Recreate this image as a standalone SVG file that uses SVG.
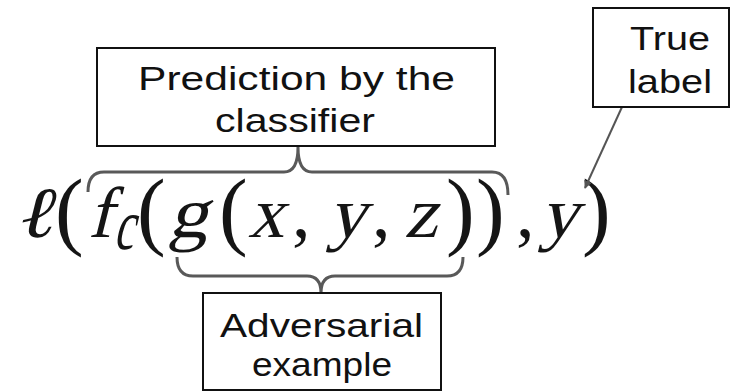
<svg xmlns="http://www.w3.org/2000/svg" width="740" height="392" viewBox="0 0 740 392">
<style>
.box{fill:#fff;stroke:#111;stroke-width:2}
.lbl{font-family:"Liberation Sans","Open Sans",sans-serif;font-size:33px;fill:#111}
.m{font-family:"Liberation Serif","DejaVu Serif",serif;font-size:72px;fill:#151515}
.p{font-family:"Liberation Serif","DejaVu Serif",serif;font-size:86px;fill:#151515}
.k{font-family:"Liberation Serif","DejaVu Serif",serif;font-size:74px;fill:#151515}
.brace{fill:none;stroke:#595959;stroke-width:3;stroke-linejoin:round}
</style>
<defs>
<marker id="ah" viewBox="0 0 10 10" refX="9" refY="5" markerWidth="8" markerHeight="8" orient="auto-start-reverse" markerUnits="userSpaceOnUse">
<path d="M0,0 L10,5 L0,10 z" fill="#555"/>
</marker>
</defs>
<g id="formula">
<text class="m" transform="translate(14 237) skewX(-14)" textLength="40" lengthAdjust="spacingAndGlyphs">ℓ</text>
<text class="p" x="55" y="239">(</text>
<text class="m" transform="translate(88 237) skewX(-14)" textLength="24" lengthAdjust="spacingAndGlyphs">f</text>
<text class="m" transform="translate(113 249) skewX(-14)" font-size="50" textLength="20" lengthAdjust="spacingAndGlyphs">c</text>
<text class="p" x="137" y="239">(</text>
<text class="m" transform="translate(168 237) skewX(-14)" textLength="40" lengthAdjust="spacingAndGlyphs">g</text>
<text class="p" x="219" y="239">(</text>
<text class="m" transform="translate(248 237) skewX(-14)" textLength="36" lengthAdjust="spacingAndGlyphs">x</text>
<text class="k" x="292" y="237">,</text>
<text class="m" transform="translate(328 237) skewX(-14)" textLength="38" lengthAdjust="spacingAndGlyphs">y</text>
<text class="k" x="372" y="237">,</text>
<text class="m" transform="translate(404 237) skewX(-14)" textLength="33" lengthAdjust="spacingAndGlyphs">z</text>
<text class="p" x="446" y="239">)</text>
<text class="p" x="476" y="239">)</text>
<text class="k" x="516" y="237">,</text>
<text class="m" transform="translate(540 237) skewX(-14)" textLength="38" lengthAdjust="spacingAndGlyphs">y</text>
<text class="p" x="582" y="239">)</text>
</g>
<g id="connectors">
<path class="brace" d="M88 192 Q88 172 104 172 L284 172 Q298 172 298 147 Q298 172 312 172 L492 172 Q508 172 508 195"/>
<path class="brace" d="M177 257 Q177 276 193 276 L307 276 Q321 276 321 293 Q321 276 335 276 L447 276 Q463 276 463 257"/>
<line x1="622" y1="107" x2="585" y2="188" stroke="#555" stroke-width="2" marker-end="url(#ah)"/>
</g>
<g id="prediction">
<rect class="box" x="97" y="48" width="398" height="98"/>
<text class="lbl" x="138" y="90" textLength="317" lengthAdjust="spacingAndGlyphs">Prediction by the</text>
<text class="lbl" x="215" y="132" textLength="160" lengthAdjust="spacingAndGlyphs">classifier</text>
</g>
<g id="truelabel">
<rect class="box" x="593" y="8" width="136" height="99"/>
<text class="lbl" x="630" y="50" textLength="80" lengthAdjust="spacingAndGlyphs">True</text>
<text class="lbl" x="628" y="93" textLength="84" lengthAdjust="spacingAndGlyphs">label</text>
</g>
<g id="adversarial">
<rect class="box" x="203" y="293" width="238" height="97"/>
<text class="lbl" x="220" y="337" textLength="203" lengthAdjust="spacingAndGlyphs">Adversarial</text>
<text class="lbl" x="252" y="376" textLength="140" lengthAdjust="spacingAndGlyphs">example</text>
</g>
</svg>
